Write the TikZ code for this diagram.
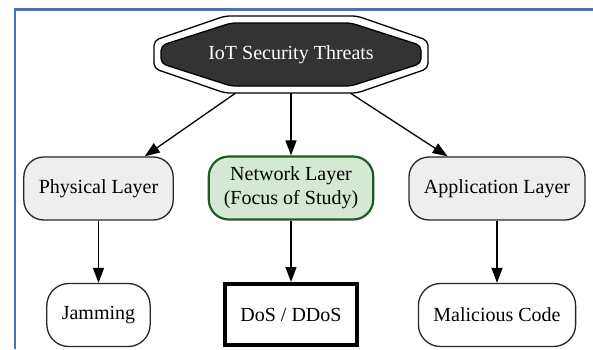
\documentclass[tikz,border=0pt]{standalone}
\usepackage{fontspec}
\setmainfont{Liberation Serif}
\usetikzlibrary{arrows.meta}
\definecolor{frameblue}{HTML}{4472C4}
\definecolor{darkfill}{HTML}{333333}
\definecolor{layergray}{HTML}{EEEEEE}
\definecolor{focusgreen}{HTML}{D5E8D4}
\definecolor{focusline}{HTML}{1E5A23}

\begin{document}
\begin{tikzpicture}[x=1pt,y=-1pt,
  every node/.style={font=\fontsize{20}{24}\selectfont,inner xsep=15pt},
  layer/.style={draw=black!85,line width=1.3pt,rounded corners=20pt,fill=layergray,minimum height=63pt},
  threat/.style={draw=black!85,line width=1.3pt,rounded corners=22pt,fill=white,minimum height=63pt},
  edge/.style={-{Triangle[length=15pt,width=11pt]},line width=1.3pt}]
\useasboundingbox (0,0) rectangle (593,349);
\draw[frameblue,line width=2.5pt] (15,349) -- (15,9.5) -- (593,9.5);
\begin{scope}[shift={(291,54.5)},rounded corners=5pt]
\draw[line width=1.3pt,fill=white] (-66,-38.5) -- (66,-38.5) -- (137,-14) -- (137,14) -- (66,38.5) -- (-66,38.5) -- (-137,14) -- (-137,-14) -- cycle;
\draw[line width=1.3pt,fill=darkfill] (-60,-31.5) -- (60,-31.5) -- (130,-9) -- (130,9) -- (60,31.5) -- (-60,31.5) -- (-130,9) -- (-130,-9) -- cycle;
\end{scope}
\node[minimum width=274pt,minimum height=77pt,text=white] (threats) at (291,54.5) {IoT Security Threats};
\node[layer] (physical) at (98.5,188.5) {Physical Layer};
\node[layer,fill=focusgreen,draw=focusline,line width=2.2pt,align=center] (network) at (291,188) {Network Layer\\(Focus of Study)};
\node[layer] (application) at (497,188.5) {Application Layer};
\node[threat] (jamming) at (98.5,315) {Jamming};
\node[draw,line width=4pt,fill=white,minimum height=61pt] (ddos) at (291,314.5) {DoS / DDoS};
\node[threat] (malicious) at (497,315) {Malicious Code};
\draw[edge] (threats) -- (physical);
\draw[edge] (threats) -- (network);
\draw[edge] (threats) -- (application);
\draw[edge] (physical) -- (jamming);
\draw[edge] (network) -- (ddos);
\draw[edge] (application) -- (malicious);
\end{tikzpicture}
\end{document}
